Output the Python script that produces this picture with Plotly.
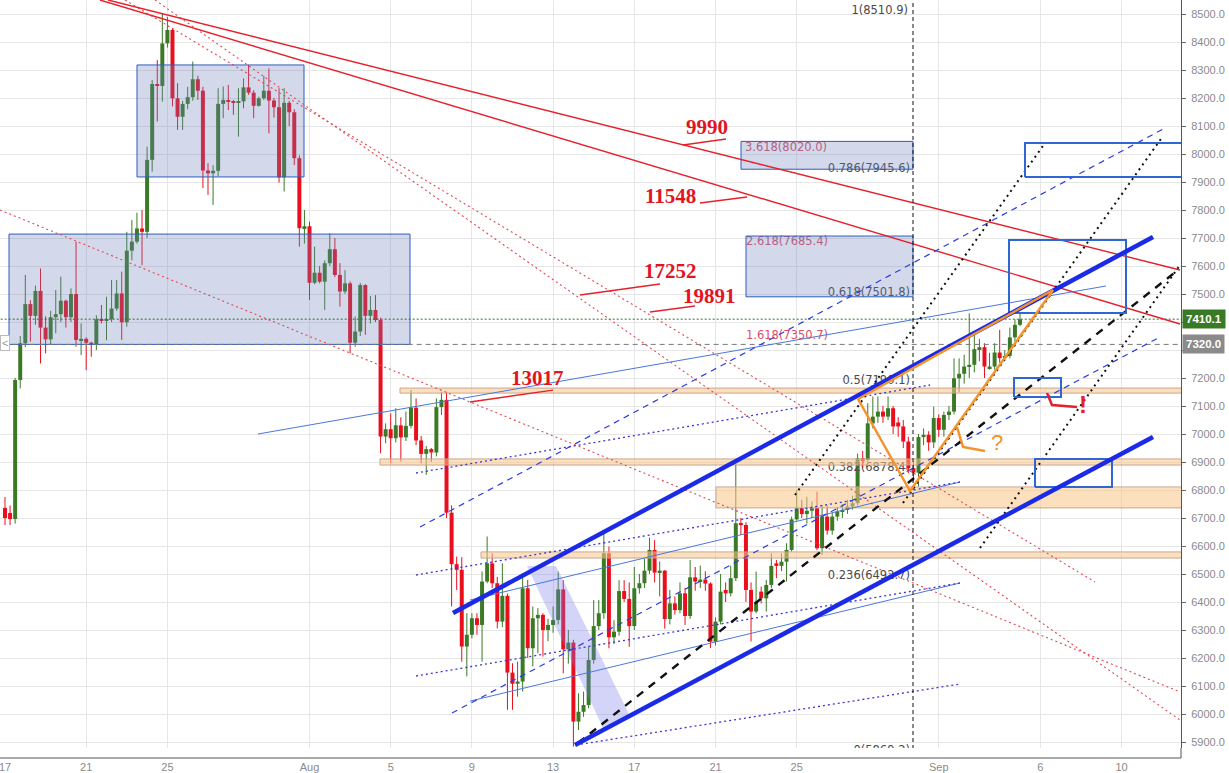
import plotly.graph_objects as go
import pandas as pd

# ---------------- candle data (6h candles from 2018-07-17 00:00) ----------------
START = pd.Timestamp("2018-07-17 00:00")

opens = [6736, 6718, 6696, 7193, 7324, 7464, 7422, 7511, 7380, 7338,
         7417, 7428, 7476, 7417, 7500, 7333, 7340, 7326, 7318, 7410,
         7404, 7410, 7448, 7502, 7399, 7655, 7687, 7734, 7722, 7979,
         8250, 8243, 8395, 8443, 8199, 8133, 8179, 8203, 8267, 8226,
         7941, 7931, 7940, 8179, 8193, 8187, 8183, 8188, 8238, 8219,
         8172, 8199, 8226, 8191, 8167, 7917, 8183, 8149, 7985, 7735,
         7742, 7540, 7576, 7544, 7610, 7660, 7568, 7509, 7538, 7326,
         7366, 7532, 7422, 7443, 7407, 6991, 7017, 6985, 7031, 6988,
         7029, 7094, 6977, 6929, 6946, 6934, 7096, 7122, 6719, 6535,
         6515, 6241, 6283, 6342, 6318, 6473, 6538, 6467, 6330, 6422,
         6148, 6108, 6116, 6449, 6235, 6342, 6354, 6300, 6318, 6336,
         6445, 6231, 6255, 5973, 6008, 6032, 6193, 6314, 6360, 6574,
         6274, 6294, 6439, 6411, 6314, 6449, 6467, 6512, 6586, 6505,
         6512, 6339, 6395, 6371, 6431, 6350, 6488, 6473, 6480, 6466,
         6258, 6330, 6443, 6431, 6485, 6681, 6675, 6443, 6366, 6437,
         6413, 6461, 6538, 6529, 6544, 6586, 6695, 6735, 6714, 6726,
         6735, 6592, 6705, 6655, 6705, 6723, 6729, 6741, 6753, 6913,
         6907, 7038, 7062, 7080, 7062, 7092, 7041, 7027, 6973, 6878,
         6862, 6989, 6997, 6970, 7057, 7015, 7068, 7080, 7199, 7215,
         7241, 7247, 7303, 7310, 7235, 7241, 7291, 7271, 7279, 7345,
         7390]
highs = [6775, 6745, 7200, 7350, 7568, 7478, 7530, 7591, 7420, 7440,
         7514, 7562, 7480, 7520, 7687, 7395, 7345, 7330, 7424, 7461,
         7490, 7550, 7550, 7580, 7722, 7764, 7790, 7800, 8026, 8264,
         8336, 8502, 8490, 8450, 8253, 8190, 8240, 8330, 8280, 8240,
         7967, 7960, 8235, 8241, 8247, 8193, 8235, 8270, 8318, 8228,
         8205, 8279, 8306, 8200, 8235, 8235, 8190, 8160, 7995, 7800,
         7758, 7669, 7600, 7620, 7717, 7700, 7610, 7585, 7545, 7420,
         7540, 7535, 7493, 7496, 7415, 7038, 7074, 7092, 7060, 7080,
         7157, 7127, 6993, 6957, 6950, 7127, 7151, 7150, 6745, 6562,
         6560, 6360, 6360, 6360, 6509, 6634, 6574, 6490, 6538, 6430,
         6181, 6187, 6503, 6479, 6384, 6378, 6360, 6340, 6384, 6508,
         6478, 6300, 6265, 6074, 6080, 6240, 6407, 6407, 6651, 6598,
         6335, 6478, 6478, 6470, 6525, 6500, 6555, 6630, 6621, 6545,
         6514, 6443, 6420, 6470, 6450, 6550, 6525, 6530, 6510, 6470,
         6345, 6500, 6470, 6530, 6895, 6700, 6685, 6470, 6509, 6455,
         6479, 6574, 6550, 6574, 6610, 6705, 6800, 6765, 6776, 6759,
         6794, 6747, 6747, 6720, 6740, 6750, 6765, 6780, 6930, 6940,
         7110, 7134, 7134, 7100, 7134, 7100, 7060, 7050, 6990, 6900,
         7000, 7020, 7010, 7098, 7070, 7080, 7100, 7270, 7270, 7283,
         7431, 7366, 7340, 7324, 7290, 7324, 7372, 7300, 7380, 7410,
         7430]
lows = [6675, 6675, 6680, 7163, 7310, 7330, 7390, 7252, 7288, 7320,
        7360, 7400, 7380, 7400, 7312, 7282, 7228, 7276, 7300, 7395,
        7335, 7400, 7440, 7336, 7383, 7620, 7680, 7603, 7700, 7937,
        8116, 8187, 8380, 8170, 8086, 8086, 8160, 8190, 8193, 7878,
        7854, 7818, 7920, 8128, 8157, 8140, 8062, 8163, 8211, 8128,
        8169, 8193, 8074, 8130, 7898, 7866, 8100, 7960, 7669, 7680,
        7479, 7535, 7538, 7443, 7600, 7560, 7455, 7500, 7288, 7312,
        7350, 7354, 7395, 7400, 6931, 6967, 6895, 6970, 6902, 6975,
        7020, 6960, 6895, 6854, 6900, 6920, 7068, 6700, 6384, 6443,
        6187, 6134, 6270, 6283, 6187, 6467, 6450, 6306, 6310, 6015,
        6015, 6062, 6080, 6200, 6170, 6217, 6205, 6260, 6290, 6320,
        6145, 6180, 5884, 5943, 5990, 6020, 6180, 6300, 6340, 6235,
        6250, 6280, 6400, 6240, 6300, 6430, 6450, 6500, 6470, 6420,
        6305, 6320, 6355, 6360, 6318, 6340, 6440, 6450, 6440, 6235,
        6245, 6320, 6400, 6420, 6475, 6640, 6400, 6259, 6360, 6395,
        6366, 6450, 6485, 6510, 6473, 6580, 6690, 6700, 6680, 6700,
        6585, 6568, 6640, 6640, 6690, 6700, 6715, 6730, 6745, 6880,
        6900, 7020, 7040, 7040, 7050, 7000, 6990, 6950, 6860, 6831,
        6812, 6960, 6940, 6950, 6990, 6990, 7050, 7070, 7150, 7180,
        7200, 7220, 7260, 7200, 7230, 7230, 7255, 7262, 7270, 7330,
        7385]
closes = [6700, 6696, 7193, 7324, 7464, 7422, 7511, 7380, 7338, 7417,
          7428, 7476, 7417, 7500, 7336, 7340, 7326, 7318, 7410, 7404,
          7410, 7448, 7502, 7399, 7655, 7687, 7734, 7722, 7979, 8250,
          8243, 8395, 8443, 8199, 8133, 8179, 8203, 8267, 8226, 7941,
          7931, 7940, 8179, 8193, 8187, 8183, 8188, 8238, 8219, 8172,
          8199, 8226, 8191, 8167, 7917, 8183, 8149, 7985, 7735, 7742,
          7540, 7576, 7544, 7610, 7660, 7568, 7509, 7538, 7326, 7366,
          7532, 7422, 7443, 7407, 6991, 7017, 6985, 7031, 6988, 7029,
          7094, 6977, 6929, 6946, 6934, 7096, 7122, 6719, 6535, 6515,
          6241, 6283, 6342, 6318, 6473, 6538, 6467, 6330, 6422, 6148,
          6108, 6116, 6449, 6235, 6342, 6354, 6300, 6318, 6336, 6445,
          6231, 6255, 5973, 6008, 6032, 6193, 6314, 6360, 6574, 6274,
          6294, 6439, 6411, 6314, 6449, 6467, 6512, 6586, 6505, 6512,
          6339, 6395, 6371, 6431, 6350, 6488, 6473, 6480, 6466, 6258,
          6330, 6437, 6431, 6485, 6681, 6675, 6443, 6366, 6401, 6413,
          6461, 6529, 6529, 6544, 6586, 6695, 6735, 6714, 6726, 6735,
          6592, 6705, 6655, 6705, 6723, 6729, 6741, 6753, 6913, 6907,
          7038, 7062, 7080, 7062, 7092, 7027, 7027, 6973, 6878, 6862,
          6989, 6997, 6970, 7057, 7015, 7068, 7080, 7199, 7215, 7241,
          7247, 7303, 7310, 7241, 7241, 7291, 7271, 7279, 7345, 7390,
          7410]

last_price = 7410.1
prev_level = 7320.0

# axis ticks
tick_dates = ["2018-07-17", "2018-07-21", "2018-07-25", "2018-08-01", "2018-08-05", "2018-08-09",
              "2018-08-13", "2018-08-17", "2018-08-21", "2018-08-25", "2018-09-01", "2018-09-06",
              "2018-09-10"]
tick_text = ["17", "21", "25", "Aug", "5", "9", "13", "17", "21", "25", "Sep", "6", "10"]
price_ticks = list(range(5900, 8600, 100))
price_tick_text = ["" if v in (7300, 7400) else "%.1f" % v for v in price_ticks]

# ---------------- drawings: anchor points (days after START, price) ----------------
red_solid_lines = [[(5.074, 8550), (57.882, 7585.7)],
                   [(4.680, 8550), (57.882, 7392.9)]]
red_dotted_lines = [[(-0.246, 7800), (57.882, 6078.6)],
                    [(5.911, 8550), (53.695, 6471.4)],
                    [(7.389, 8550), (57.882, 5978.6)]]
zone_rects = [(6.502, 14.729, 7918, 8318), (0.197, 19.951, 7320, 7714),
              (36.256, 44.729, 7945.6, 8045), (36.502, 44.729, 7490, 7707)]
target_rects = [(50.246, 58.6, 7918, 8039), (49.458, 55.222, 7432, 7693),
                (49.704, 52.020, 7132, 7200), (50.739, 54.532, 6811, 6911)]
orange_bands = [(19.458, 7146, 7164), (18.473, 6889, 6911), (35.025, 6736, 6811), (23.448, 6557, 6579)]
channel_upper = [(22.069, 6360.7), (56.552, 7703.6)]
channel_lower = [(28.079, 5889.3), (56.552, 6989.3)]
median_dashed = [(28.227, 5896.4), (57.783, 7585.7)]
black_dotted = [[(38.916, 6782.1), (51.232, 8039.3)],
                [(44.236, 6753.6), (57.044, 8064.3)],
                [(48.030, 6592.9), (57.882, 7603.6)]]
thin_blue_solid = [[(12.463, 7000.0), (54.236, 7528.6)],
                   [(22.906, 6407.0), (47.044, 6828.6)],
                   [(22.906, 6046.0), (47.044, 6467.9)]]
blue_dotted = [[(20.246, 6860.7), (45.567, 7175.0)],
               [(20.246, 6496.4), (47.044, 6828.6)],
               [(20.246, 6135.7), (47.044, 6467.9)],
               [(28.128, 5889.3), (47.044, 6107.1)]]
blue_dashed = [[(20.443, 6667.9), (57.143, 8092.9)],
               [(22.020, 6003.6), (56.897, 7346.4)]]
wedge = [(42.020, 7125.0), (51.626, 7514.3), (44.581, 6796.4), (42.020, 7125.0)]
orange_hook = [(46.897, 7025.0), (47.192, 6953.6), (48.276, 6939.3)]
red_hook = [(51.330, 7146.4), (51.576, 7103.6), (52.808, 7096.4)]
lavender_band = [(25.714, 6528.6), (27.143, 6528.6), (30.837, 5985.7), (29.507, 5942.9)]
fib_time = 44.729

count_labels = [("9990", 34.581, 8096.4), ("11548", 32.759, 7850.0), ("17252", 32.759, 7582.1),
                ("19891", 34.680, 7492.9), ("13017", 26.207, 7200.0)]
count_pointers = [[(33.399, 8032.1), (35.517, 8053.6)], [(34.236, 7825.0), (36.552, 7846.4)],
                  [(28.325, 7496.4), (32.266, 7535.7)], [(31.773, 7435.7), (33.990, 7457.1)],
                  [(22.906, 7114.3), (26.995, 7157.1)]]
fib_right_labels = [("1(8510.9)", 44.48, 8510.9), ("0.786(7945.6)", 44.58, 7945.6),
                    ("0.618(7501.8)", 44.58, 7501.8), ("0.5(7190.1)", 44.58, 7190.1),
                    ("0.382(6878.4)", 44.58, 6878.4), ("0.236(6492.7)", 44.58, 6492.7),
                    ("0(5869.2)", 44.58, 5869.2)]
fib_left_labels = [("3.618(8020.0)", 36.45, 8020.0), ("2.618(7685.4)", 36.50, 7685.4),
                   ("1.618(7350.7)", 36.50, 7350.7)]


def T(d):
    return START + pd.Timedelta(days=d)


times = [START + pd.Timedelta(hours=6 * i) for i in range(len(opens))]

UP = "#3b7a26"
DN = "#ea0f1d"
fig = go.Figure()

# fib labels (drawn beneath candles)
fig.add_trace(go.Scatter(x=[T(d) for _, d, _ in fib_right_labels], y=[p for _, _, p in fib_right_labels],
                         text=[s for s, _, _ in fib_right_labels], mode="text", textposition="middle left",
                         textfont=dict(family="DejaVu Sans", size=11.5, color="#4a4a4a"), hoverinfo="skip"))
fig.add_trace(go.Scatter(x=[T(d) for _, d, _ in fib_left_labels], y=[p for _, _, p in fib_left_labels],
                         text=[s for s, _, _ in fib_left_labels], mode="text", textposition="middle right",
                         textfont=dict(family="DejaVu Sans", size=11.5, color="#d8506a"), hoverinfo="skip"))

# candles
for col, cond in ((UP, lambda o, c: c >= o), (DN, lambda o, c: c < o)):
    wx, wy = [], []
    bx, bb, bh = [], [], []
    for t, o, h, l, c in zip(times, opens, highs, lows, closes):
        if cond(o, c):
            wx += [t, t, None]
            wy += [l, h, None]
            bx.append(t)
            bb.append(min(o, c))
            bh.append(max(abs(c - o), 3.5))
    fig.add_trace(go.Scatter(x=wx, y=wy, mode="lines", line=dict(color=col, width=1), hoverinfo="skip"))
    fig.add_trace(go.Bar(x=bx, y=bh, base=bb, width=4.7 * 3600 * 1000, marker=dict(color=col, line=dict(width=0)),
                         hoverinfo="skip"))


def poly(pts, **kw):
    fig.add_trace(go.Scatter(x=[T(d) for d, _ in pts], y=[p for _, p in pts], hoverinfo="skip", **kw))


def rect(d0, d1, p0, p1, **kw):
    poly([(d0, p0), (d1, p0), (d1, p1), (d0, p1), (d0, p0)], **kw)


# orange horizontal bands
for d0, p0, p1 in orange_bands:
    rect(d0, 60, p0, p1, mode="lines", fill="toself", fillcolor="rgba(250,196,135,0.55)",
         line=dict(color="rgba(196,160,140,0.9)", width=1))

# shaded zone rectangles
for d0, d1, p0, p1 in zone_rects:
    rect(d0, d1, p0, p1, mode="lines", fill="toself", fillcolor="rgba(110,128,190,0.30)",
         line=dict(color="#2d5dbf", width=1))

# lavender band
poly(lavender_band + [lavender_band[0]], mode="lines", fill="toself", fillcolor="rgba(120,120,235,0.32)",
     line=dict(width=0))

# horizontal price lines
fig.add_trace(go.Scatter(x=[T(-1), T(60)], y=[last_price, last_price], mode="lines",
                         line=dict(color="#2f6b2f", width=1, dash="2px,2px"), hoverinfo="skip"))
fig.add_trace(go.Scatter(x=[T(-1), T(60)], y=[prev_level, prev_level], mode="lines",
                         line=dict(color="#777777", width=1, dash="5px,4px"), hoverinfo="skip"))

# thin lines
for seg in red_dotted_lines:
    poly(seg, mode="lines", line=dict(color="#e34852", width=1.1, dash="2px,3px"))
for seg in red_solid_lines:
    poly(seg, mode="lines", line=dict(color="#e5212c", width=1.4))
for seg in thin_blue_solid:
    poly(seg, mode="lines", line=dict(color="#4a78dc", width=1))
for seg in blue_dotted:
    poly(seg, mode="lines", line=dict(color="#3c36d6", width=1.3, dash="2px,3px"))
for seg in blue_dashed:
    poly(seg, mode="lines", line=dict(color="#2b3ce0", width=1.2, dash="6px,5px"))
for seg in count_pointers:
    poly(seg, mode="lines", line=dict(color="#e5212c", width=1.3))

# vertical fib time line
fig.add_trace(go.Scatter(x=[T(fib_time), T(fib_time)], y=[5000, 9000], mode="lines",
                         line=dict(color="#111111", width=1, dash="4px,3px"), hoverinfo="skip"))

# black dashed median & dotted
poly(median_dashed, mode="lines", line=dict(color="#111111", width=2.4, dash="8px,7px"))
for seg in black_dotted:
    poly(seg, mode="lines", line=dict(color="#111111", width=2, dash="2px,4px"))

# target rectangles
for d0, d1, p0, p1 in target_rects:
    rect(d0, d1, p0, p1, mode="lines", line=dict(color="#2e66d4", width=2))

# channel
poly(channel_upper, mode="lines", line=dict(color="#1b2ae6", width=4.5))
poly(channel_lower, mode="lines", line=dict(color="#1b2ae6", width=4.5))

# orange wedge and hooks
poly(wedge, mode="lines", line=dict(color="#f5922a", width=2.5))
poly(orange_hook, mode="lines", line=dict(color="#f5922a", width=2.5))
poly(red_hook, mode="lines", line=dict(color="#e5212c", width=2.5))

annotations = []
for s, d, p in count_labels:
    annotations.append(dict(x=T(d), y=p, xref="x", yref="y", text="<b>%s</b>" % s, showarrow=False,
                            font=dict(family="Liberation Serif", size=21, color="#e3141f")))
annotations.append(dict(x=T(48.867), y=6968, xref="x", yref="y", text="?", showarrow=False,
                        font=dict(family="Liberation Sans", size=22, color="#f5922a")))
annotations.append(dict(x=T(53.103), y=7104, xref="x", yref="y", text="<b>!</b>", showarrow=False,
                        font=dict(family="Liberation Sans", size=24, color="#e5212c")))
annotations.append(dict(x=1, y=last_price, xref="paper", yref="y", xanchor="left", text="<b>7410.1</b>",
                        showarrow=False, bgcolor="#3a7a27", borderpad=3, xshift=1,
                        font=dict(family="Liberation Sans", size=11.5, color="#ffffff")))
annotations.append(dict(x=1, y=prev_level, xref="paper", yref="y", xanchor="left", text="<b>7320.0</b>",
                        showarrow=False, bgcolor="#8a8a8a", borderpad=3, xshift=1,
                        font=dict(family="Liberation Sans", size=11.5, color="#ffffff")))
annotations.append(dict(x=0, y=0.541, xref="paper", yref="paper", xanchor="left", text="&lt;",
                        showarrow=False, bgcolor="#ffffff", bordercolor="#bbbbbb", borderwidth=1,
                        borderpad=1, font=dict(family="Liberation Sans", size=11, color="#999999")))
# first date label sits on the left edge of the pane
annotations.append(dict(x=T(0), y=-19 / 748, xref="x", yref="paper", yanchor="middle", text=tick_text[0],
                        showarrow=False, font=dict(family="Liberation Sans", size=11, color="#8a8a8a")))

PLOT_H = 748
fig.update_layout(
    width=1229, height=773,
    margin=dict(l=0, r=48, t=0, b=25),
    paper_bgcolor="#ffffff", plot_bgcolor="#ffffff",
    showlegend=False, barmode="overlay", hovermode=False,
    annotations=annotations,
    shapes=[dict(type="line", xref="paper", yref="paper", x0=0, x1=1, y0=-10 / PLOT_H, y1=-10 / PLOT_H,
                 line=dict(color="#555555", width=1)),
            dict(type="line", xref="paper", yref="paper", x0=1, x1=1, y0=-10 / PLOT_H, y1=0,
                 line=dict(color="#555555", width=1))],
)
fig.update_xaxes(type="date", range=[T(-0.2463), T(57.931)], tickvals=tick_dates[1:], ticktext=tick_text[1:],
                 showgrid=True, gridcolor="#e6e6e6", gridwidth=1, zeroline=False, showline=False,
                 ticks="", ticklabelstandoff=11,
                 tickfont=dict(family="Liberation Sans", size=11, color="#8a8a8a"))
fig.update_yaxes(side="right", range=[8550 - PLOT_H * 3.5714, 8550], tickvals=price_ticks,
                 ticktext=price_tick_text,
                 showgrid=True, gridcolor="#e6e6e6", gridwidth=1, zeroline=False,
                 ticks="outside", ticklen=4, tickcolor="#666666", showline=True, linecolor="#555555",
                 ticklabelstandoff=3,
                 tickfont=dict(family="Liberation Sans", size=11, color="#8a8a8a"))

fig.write_html("out.html", config={"displayModeBar": False},
               post_script="document.body.style.margin='0px';")
